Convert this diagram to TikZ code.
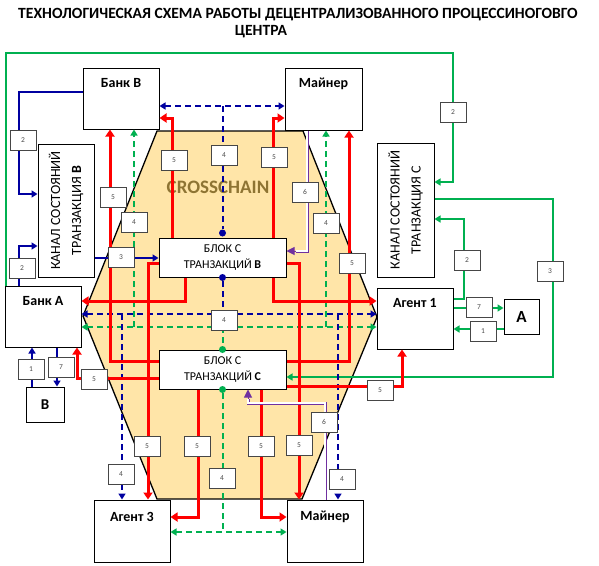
\documentclass[tikz,border=0pt]{standalone}
\usepackage{fontspec}
\setmainfont{Carlito}
\usetikzlibrary{arrows.meta}
\definecolor{navy}{RGB}{0,0,160}
\definecolor{grn}{RGB}{0,176,80}
\definecolor{purp}{RGB}{112,48,160}
\definecolor{hexfill}{RGB}{255,229,168}
\definecolor{chaintext}{RGB}{142,116,51}
\definecolor{tagline}{RGB}{70,70,70}
\tikzstyle{unit}=[draw=black,fill=white,line width=1pt,inner sep=0pt,minimum width=76pt,minimum height=61pt]
\tikzstyle{unitname}=[anchor=center,inner sep=0pt,font=\bfseries\fontsize{14}{16}\selectfont]
\tikzstyle{channel}=[unit,minimum width=56pt,minimum height=133pt]
\tikzstyle{chantext}=[rotate=90,anchor=center,align=center,inner sep=0pt,font=\fontsize{14}{21}\selectfont]
\tikzstyle{block}=[draw=black,fill=white,line width=1pt,minimum width=127pt,minimum height=39pt,inner sep=0pt,align=center,font=\fontsize{12}{16}\selectfont]
\tikzstyle{tag}=[draw=tagline,fill=white,line width=0.8pt,minimum width=26pt,minimum height=20pt,inner sep=0pt,text=black!70,font=\fontsize{7.5}{8}\selectfont]
\tikzstyle{dot}=[circle,inner sep=0pt,minimum size=7pt]
\tikzstyle{redline}=[red,line width=3pt,>={Triangle[length=7pt,width=9pt]},->]
\tikzstyle{blline}=[navy,line width=2pt,>={Triangle[length=6pt,width=7pt]}]
\tikzstyle{bldash}=[blline,dash pattern=on 6pt off 4pt]
\tikzstyle{grline}=[grn,line width=2pt,>={Triangle[length=6pt,width=7pt]}]
\tikzstyle{grdash}=[grline,dash pattern=on 6pt off 4pt]
\tikzstyle{purpline}=[purp,line width=0.7pt,double=white,double distance=1.6pt]
\tikzstyle{purptip}=[purp,line width=1pt,-{Triangle[length=8pt,width=8pt]}]
\begin{document}
\begin{tikzpicture}[x=1pt,y=-1pt]
	\useasboundingbox (0,0) rectangle (599,565);
	\node[font=\bfseries\fontsize{15.6}{18}\selectfont] (title1) at (298,15) {ТЕХНОЛОГИЧЕСКАЯ СХЕМА РАБОТЫ ДЕЦЕНТРАЛИЗОВАННОГО ПРОЦЕССИНОГОВГО};
	\node[font=\bfseries\fontsize{15.6}{18}\selectfont] (title2) at (261,32) {ЦЕНТРА};
	% crosschain
	\filldraw[fill=hexfill,draw=black,line width=1.3pt] (157,131) -- (303,131) -- (377,317) -- (302,499) -- (157,499) -- (83,316) -- cycle;
	\node[text=chaintext,font=\bfseries\fontsize{19}{20}\selectfont] (cross) at (218,187) {CROSSCHAIN};
	% units
	\node[unit,label={[unitname,yshift=-16pt]north:Банк В}] (bankB) at (121,98.5) {};
	\node[unit,minimum width=77pt,minimum height=62pt,label={[unitname,yshift=-16pt]north:Майнер}] (minerT) at (323.5,99) {};
	\node[channel,label={[chantext]center:{КАНАЛ СОСТОЯНИЙ\\ТРАНЗАКЦИЯ \textbf{В}}}] (chanB) at (66,210.5) {};
	\node[channel,minimum width=57pt,minimum height=134pt,label={[chantext]center:{КАНАЛ СОСТОЯНИЙ\\ТРАНЗАКЦИЯ С}}] (chanC) at (405.5,210) {};
	\node[unit,label={[unitname,yshift=-16pt]north:Банк А}] (bankA) at (43,316.5) {};
	\node[unit,label={[unitname,yshift=-15pt]north:Агент 1}] (agent1) at (415,318.5) {};
	\node[unit,minimum width=35pt,minimum height=35pt,font=\bfseries\fontsize{17}{18}\selectfont] (boxA) at (521.5,316.5) {А};
	\node[unit,minimum width=38pt,minimum height=35pt,font=\bfseries\fontsize{15}{16}\selectfont] (boxV) at (45,404.5) {В};
	\node[unit,minimum height=62pt,label={[unitname,yshift=-17pt]north:Агент 3}] (agent3) at (132,531) {};
	\node[unit,minimum height=62pt,label={[unitname,yshift=-17pt]north:Майнер}] (minerB) at (325,531) {};
	\node[block] (blockB) at (222.5,257.5) {БЛОК С\\ТРАНЗАКЦИЙ \textbf{В}};
	\node[block] (blockC) at (222.5,369.5) {БЛОК С\\ТРАНЗАКЦИЙ \textbf{С}};
	\node[dot,fill=navy] (dotB1) at (222.5,233) {};
	\node[dot,fill=navy] (dotB2) at (blockB.south) {};
	\node[dot,fill=grn] (dotC1) at (blockC.north) {};
	\node[dot,fill=grn] (dotC2) at (blockC.south) {};
	% corners
	\coordinate (gnw) at (6,53);
	\coordinate (gne) at (453,53);
	\coordinate (gc) at (453,182);
	\coordinate (g3a) at (553,199);
	\coordinate (g3b) at (553,377);
	\coordinate (g2c) at (464,299);
	\coordinate (g2d) at (464,219);
	\coordinate (g7) at (479,308);
	\coordinate (g1) at (483,329);
	\coordinate (gdh) at (222.5,327);
	\coordinate (gdl) at (134,327);
	\coordinate (gdr) at (326,327);
	\coordinate (gdb) at (222.5,532);
	\coordinate (bdt) at (222.5,106);
	\coordinate (bdm) at (222.5,314);
	\coordinate (bdl) at (122,314);
	\coordinate (bdr) at (338,314);
	\coordinate (b1a) at (19,92);
	\coordinate (b1b) at (19,194);
	\coordinate (b2a) at (19,246);
	\coordinate (b3) at (121,258);
	\coordinate (bv1) at (32,369);
	\coordinate (bv7) at (57,367);
	\coordinate (r1) at (110,361);
	\coordinate (r2) at (185,301);
	\coordinate (r3) at (77,378);
	\coordinate (r4) at (148,263);
	\coordinate (r5) at (172,118);
	\coordinate (r6) at (273,118);
	\coordinate (r7) at (349,361);
	\coordinate (r8) at (273,301);
	\coordinate (r9) at (299,263);
	\coordinate (r10) at (402,386);
	\coordinate (r11) at (198,517);
	\coordinate (r12) at (261,517);
	\coordinate (p1a) at (307,251);
	\coordinate (p1b) at (296,251);
	\coordinate (p2a) at (325,403);
	\coordinate (p2b) at (248,403);
	\coordinate (p2c) at (248,399);
	% green
	\draw[grline,->] (bankA.north -| gnw) -- (gnw) -- (gne) -- (gc) -- (chanC.east |- gc);
	\draw[grline,->] (chanC.east |- g3a) -- (g3a) -- (g3b) -- (blockC.east |- g3b);
	\draw[grline,->] (agent1.east |- g2c) -- (g2c) -- (g2d) -- (chanC.east |- g2d);
	\draw[grline,->] (agent1.east |- g7) -- (boxA.west |- g7);
	\draw[grline,->] (boxA.west |- g1) -- (agent1.east |- g1);
	\draw[grdash,<->] (bankA.east |- gdh) -- (agent1.west |- gdh);
	\draw[grdash,->] (gdl) -- (bankB.south -| gdl);
	\draw[grdash,->] (gdr) -- (minerT.south -| gdr);
	\draw[grdash] (gdh) -- (dotC1);
	\draw[grdash] (dotC2) -- (gdb);
	\draw[grdash,<->] (agent3.east |- gdb) -- (minerB.west |- gdb);
	% blue
	\draw[bldash,<->] (bankB.east |- bdt) -- (minerT.west |- bdt);
	\draw[bldash] (bdt) -- (dotB1);
	\draw[bldash] (dotB2) -- (bdm);
	\draw[bldash,<->] (bankA.east |- bdm) -- (agent1.west |- bdm);
	\draw[bldash,->] (bdl) -- (agent3.north -| bdl);
	\draw[bldash,->] (bdr) -- (minerB.north -| bdr);
	\draw[blline,->] (bankB.west |- b1a) -- (b1a) -- (b1b) -- (chanB.west |- b1b);
	\draw[blline,->] (bankA.north -| b2a) -- (b2a) -- (chanB.west |- b2a);
	\draw[blline,->] (chanB.east |- b3) -- (blockB.west |- b3);
	\draw[blline,->] (boxV.north -| bv1) -- (bankA.south -| bv1);
	\draw[blline,->] (bankA.south -| bv7) -- (boxV.north -| bv7);
	% red
	\draw[redline] (blockC.west |- r1) -- (r1) -- (bankB.south -| r1);
	\draw[redline] (blockB.south -| r2) -- (r2) -- (bankA.east |- r2);
	\draw[redline] (blockC.west |- r3) -- (r3) -- (bankA.south -| r3);
	\draw[redline] (blockB.west |- r4) -- (r4) -- (agent3.north -| r4);
	\draw[redline] (blockB.north -| r5) -- (r5) -- (bankB.east |- r5);
	\draw[redline] (blockB.north -| r6) -- (r6) -- (minerT.west |- r6);
	\draw[redline] (blockC.east |- r7) -- (r7) -- (minerT.south -| r7);
	\draw[redline] (blockB.south -| r8) -- (r8) -- (agent1.west |- r8);
	\draw[redline] (blockB.east |- r9) -- (r9) -- (minerB.north -| r9);
	\draw[redline] (blockC.east |- r10) -- (r10) -- (agent1.south -| r10);
	\draw[redline] (blockC.south -| r11) -- (r11) -- (agent3.east |- r11);
	\draw[redline] (blockC.south -| r12) -- (r12) -- (minerB.west |- r12);
	% purple
	\draw[purpline] (minerT.south -| p1a) -- (p1a) -- (p1b);
	\draw[purptip] (p1b) -- (blockB.east |- p1b);
	\draw[purpline] (minerB.north -| p2a) -- (p2a) -- (p2b) -- (p2c);
	\draw[purptip] (p2c) -- (blockC.south -| p2c);
	% tags
	\foreach \x/\y/\t [count=\k] in {23/140/2, 22/268/2, 121/257/3, 224/155/4, 224/320/4, 121/474/4, 342/479/4,
		31/369/1, 61/367/7, 453/112/2, 550/271/3, 467/260/2, 479/307/7, 483/331/1, 134/222/4, 326/223/4, 222/478/4,
		113/197/5, 174/160/5, 274/157/5, 352/263/5, 94/379/5, 147/446/5, 197/446/5, 261/446/5, 299/445/5, 380/390/5,
		305/192/6, 324/422/6}
		\node[tag] (tag\k) at (\x,\y) {\t};
\end{tikzpicture}
\end{document}
